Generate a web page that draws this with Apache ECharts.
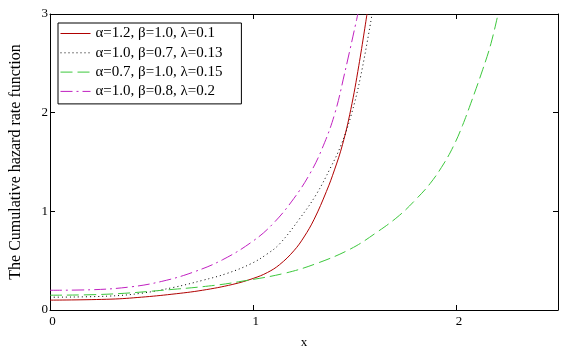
<!DOCTYPE html>
<html>
<head>
<meta charset="utf-8">
<script src="https://cdn.jsdelivr.net/npm/echarts@6/dist/echarts.min.js"></script>
<style>
  html, body { margin: 0; padding: 0; background: #fff; }
  #chart { width: 573px; height: 354px; }
</style>
</head>
<body>
<div id="chart"></div>
<script>
const seriesNames = [
  'α=1.2, β=1.0, λ=0.1',
  'α=1.0, β=0.7, λ=0.13',
  'α=0.7, β=1.0, λ=0.15',
  'α=1.0, β=0.8, λ=0.2'
]

// values
const redX = [0, 0.3, 0.45, 0.6, 0.75, 0.9, 1.0, 1.07, 1.13, 1.2, 1.25, 1.3, 1.36, 1.4, 1.44, 1.48, 1.52, 1.56]
const redY = [0.10, 0.11, 0.13, 0.16, 0.20, 0.26, 0.32, 0.38, 0.46, 0.60, 0.74, 0.92, 1.20, 1.42, 1.68, 2.03, 2.48, 3.0]

const blackX = [0, 0.28, 0.45, 0.61, 0.75, 0.87, 0.99, 1.07, 1.13, 1.23, 1.31, 1.38, 1.43, 1.48, 1.53, 1.585]
const blackY = [0.13, 0.14, 0.17, 0.23, 0.30, 0.37, 0.47, 0.57, 0.67, 0.93, 1.17, 1.44, 1.66, 1.96, 2.38, 3.0]

const greenX = [0, 0.28, 0.61, 0.81, 0.94, 1.15, 1.31, 1.48, 1.61, 1.72, 1.8, 1.87, 1.94, 1.99, 2.03, 2.07, 2.13, 2.17, 2.205]
const greenY = [0.15, 0.16, 0.21, 0.25, 0.29, 0.37, 0.47, 0.62, 0.79, 0.96, 1.12, 1.28, 1.49, 1.68, 1.87, 2.09, 2.44, 2.70, 3.0]

const magentaX = [0, 0.2, 0.4, 0.55, 0.7, 0.85, 1.0, 1.1, 1.2, 1.28, 1.34, 1.4, 1.45, 1.515]
const magentaY = [0.20, 0.205, 0.235, 0.29, 0.38, 0.51, 0.70, 0.88, 1.13, 1.385, 1.64, 1.98, 2.4, 3.0]

const xTicks = [0, 1, 2]
const yTicks = [0, 1, 2, 3]

const colors = ['#b00000', '#000000', '#3cc83c', '#c020c0']
const dashes = ['solid', [1, 3], [12, 5], [12, 4, 2, 4]]

const serif = '"Liberation Serif", "DejaVu Serif", serif'

const pairs = (xs, ys) => xs.map((x, i) => [x, ys[i]])

const chart = echarts.init(document.getElementById('chart'))

const lineSeries = (i, xs, ys) => ({
  name: seriesNames[i],
  type: 'line',
  data: pairs(xs, ys),
  symbol: 'none',
  showSymbol: false,
  smooth: 0.4,
  lineStyle: { color: colors[i], width: 1, type: dashes[i] },
  itemStyle: { color: colors[i] },
  clip: true,
  animation: false
})

const baseX = {
  type: 'value',
  min: 0,
  max: 2.5,
  interval: 1,
  axisLine: { show: true, onZero: false, lineStyle: { color: '#000', width: 1 } },
  axisTick: { show: true, inside: true, length: 5, lineStyle: { color: '#000' } },
  splitLine: { show: false }
}

const baseY = {
  type: 'value',
  min: 0,
  max: 3,
  interval: 1,
  axisLine: { show: true, onZero: false, lineStyle: { color: '#000', width: 1 } },
  axisTick: { show: true, inside: true, length: 5, lineStyle: { color: '#000' } },
  splitLine: { show: false }
}

const option = {
  backgroundColor: '#fff',
  animation: false,
  grid: { left: 49, right: 15, top: 14, bottom: 44, containLabel: false },
  legend: {
    orient: 'vertical',
    left: 58,
    top: 23,
    data: seriesNames.map((name, i) => ({
      name: name,
      lineStyle: { color: colors[i], width: 1, type: dashes[i] }
    })),
    itemWidth: 30,
    itemHeight: 14,
    itemGap: 4.3,
    padding: [3, 19, 5, 2],
    borderColor: '#000',
    borderWidth: 1,
    backgroundColor: '#fff',
    itemStyle: { opacity: 0 },
    textStyle: { fontFamily: serif, fontSize: 15, color: '#000' }
  },
  xAxis: [
    Object.assign({}, baseX, {
      position: 'bottom',
      name: 'x',
      nameLocation: 'middle',
      nameGap: 26,
      nameTextStyle: { fontFamily: serif, fontSize: 13, color: '#000' },
      axisLabel: {
        fontFamily: serif, fontSize: 13, color: '#000', margin: 5,
        padding: [0, 0, 0, 5],
        formatter: v => (xTicks.includes(v) ? String(v) : '')
      }
    }),
    Object.assign({}, baseX, { position: 'top', axisLabel: { show: false } })
  ],
  yAxis: [
    Object.assign({}, baseY, {
      position: 'left',
      name: 'The Cumulative hazard rate function',
      nameLocation: 'middle',
      nameGap: 26,
      nameTextStyle: { fontFamily: serif, fontSize: 16, color: '#000' },
      axisLabel: {
        fontFamily: serif, fontSize: 13, color: '#000', margin: 2,
        formatter: v => (yTicks.includes(v) ? String(v) : '')
      }
    }),
    Object.assign({}, baseY, { position: 'right', axisLabel: { show: false } })
  ],
  series: [
    lineSeries(0, redX, redY),
    lineSeries(1, blackX, blackY),
    lineSeries(2, greenX, greenY),
    lineSeries(3, magentaX, magentaY)
  ]
}

chart.setOption(option)
</script>
</body>
</html>
